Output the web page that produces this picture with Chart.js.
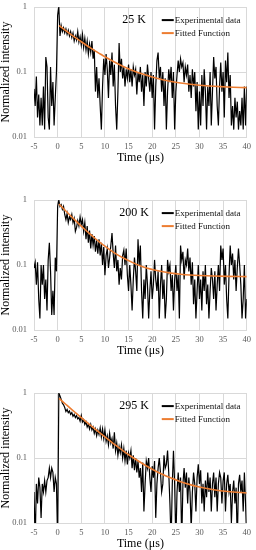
<!DOCTYPE html>
<html><head><meta charset="utf-8">
<script src="https://cdn.jsdelivr.net/npm/chart.js@4.4.0/dist/chart.umd.min.js"></script>
<style>
html,body{margin:0;padding:0;background:#fff;}
body{width:256px;height:550px;overflow:hidden;position:relative;}
canvas{position:absolute;left:0;}
</style></head>
<body>
<canvas id="c0" width="256" height="172" style="top:-5px"></canvas>
<canvas id="c1" width="256" height="172" style="top:188px"></canvas>
<canvas id="c2" width="256" height="172" style="top:381px"></canvas>
<script>
// ---- data ----
const T_START = -5, T_STEP = 0.25;   // sampling grid of the measured decays (μs)
const panelLabels = ['25 K', '200 K', '295 K'];
const seriesNames = ['Experimental data', 'Fitted Function'];
const xTickValues = [-5, 0, 5, 10, 15, 20, 25, 30, 35, 40];
const xTickLabels = ['-5', '0', '5', '10', '15', '20', '25', '30', '35', '40'];
const yTickValues = [0.01, 0.1, 1];
const yTickLabels = ['0.01', '0.1', '1'];
const xTitle = 'Time (μs)';
const yTitle = 'Normalized intensity';

const exp25K = [
 0.055,0.03,0.085,0.02, 0.045,0.015,0.04,0.015, 0.06,0.013,0.17,0.12, 0.02,0.013,0.12,0.03, 0.07,0.015,0.04,0.1,
 0.75,1.0,0.36,0.52, 0.42,0.48,0.40,0.46, 0.38,0.44,0.36,0.42, 0.34,0.40,0.30,0.36, 0.31,0.42,0.29,0.35,
 0.26,0.38,0.24,0.33, 0.22,0.30,0.19,0.27, 0.20,0.30,0.16,0.22, 0.05,0.12,0.04,0.08, 0.03,0.013,0.06,0.16,
 0.09,0.19,0.11,0.04, 0.15,0.09,0.2,0.06, 0.13,0.03,0.013,0.05, 0.28,0.1,0.16,0.08, 0.12,0.06,0.11,0.08,
 0.13,0.07,0.11,0.06, 0.12,0.09,0.11,0.045, 0.1,0.07,0.12,0.05, 0.09,0.03,0.1,0.06, 0.13,0.08,0.05,0.1,
 0.04,0.09,0.013,0.06, 0.15,0.2,0.08,0.12, 0.05,0.1,0.03,0.08, 0.013,0.05,0.11,0.07, 0.12,0.04,0.1,0.013,
 0.05,0.09,0.15,0.1, 0.16,0.12,0.14,0.07, 0.12,0.09,0.13,0.05, 0.09,0.04,0.11,0.06, 0.1,0.025,0.07,0.013,
 0.05,0.015,0.09,0.03, 0.11,0.05,0.013,0.06, 0.03,0.1,0.015,0.05, 0.17,0.08,0.12,0.03, 0.015,0.06,0.14,0.05,
 0.1,0.02,0.15,0.07, 0.2,0.04,0.09,0.015, 0.03,0.013,0.04,0.02, 0.035,0.013,0.025,0.015, 0.04,0.013,0.06,0.015,
 0.06
];
const exp200K = [
 0.09,0.11,0.05,0.11, 0.03,0.015,0.1,0.05, 0.1,0.03,0.06,0.02, 0.12,0.22,0.08,0.017, 0.04,0.017,0.13,0.08,
 0.8,1.0,0.8,0.85, 0.72,0.8,0.6,0.5, 0.62,0.45,0.55,0.5, 0.6,0.45,0.52,0.33, 0.38,0.48,0.4,0.55,
 0.42,0.5,0.33,0.45, 0.25,0.4,0.22,0.34, 0.18,0.3,0.2,0.28, 0.16,0.24,0.15,0.25, 0.14,0.22,0.1,0.19,
 0.07,0.14,0.18,0.09, 0.13,0.2,0.31,0.15, 0.09,0.2,0.08,0.12, 0.05,0.09,0.06,0.14, 0.17,0.1,0.18,0.07,
 0.04,0.1,0.05,0.02, 0.06,0.13,0.08,0.04, 0.25,0.1,0.2,0.04, 0.015,0.06,0.03,0.1, 0.05,0.015,0.04,0.08,
 0.03,0.05,0.12,0.06, 0.04,0.08,0.015,0.05, 0.1,0.03,0.06,0.015, 0.03,0.12,0.08,0.1, 0.04,0.07,0.02,0.06,
 0.1,0.04,0.07,0.015, 0.2,0.12,0.16,0.06, 0.12,0.1,0.18,0.08, 0.13,0.05,0.11,0.025, 0.06,0.015,0.04,0.1,
 0.03,0.06,0.02,0.08, 0.04,0.1,0.025,0.05, 0.015,0.04,0.09,0.06, 0.03,0.08,0.02,0.05, 0.1,0.04,0.2,0.12,
 0.18,0.05,0.1,0.03, 0.015,0.07,0.2,0.1, 0.15,0.06,0.12,0.04, 0.09,0.18,0.1,0.05, 0.015,0.03,0.1,0.015,
 0.03
];
const exp295K = [
 0.03,0.005,0.04,0.02, 0.05,0.035,0.012,0.04, 0.03,0.045,0.03,0.045, 0.05,0.07,0.05,0.07, 0.06,0.03,0.05,0.04,
 0.005,1.0,0.9,0.8, 0.7,0.66,0.6,0.52, 0.56,0.5,0.53,0.47, 0.5,0.44,0.47,0.42, 0.45,0.4,0.42,0.37,
 0.45,0.36,0.39,0.33, 0.36,0.3,0.33,0.28, 0.33,0.27,0.3,0.24, 0.28,0.22,0.27,0.23, 0.29,0.21,0.28,0.2,
 0.27,0.18,0.22,0.16, 0.24,0.17,0.2,0.14, 0.25,0.13,0.17,0.11, 0.15,0.12,0.16,0.1, 0.14,0.09,0.13,0.08,
 0.12,0.1,0.13,0.07, 0.11,0.065,0.1,0.06, 0.09,0.05,0.07,0.03, 0.085,0.015,0.04,0.09, 0.07,0.1,0.05,0.03,
 0.075,0.05,0.09,0.012, 0.04,0.07,0.1,0.06, 0.03,0.04,0.11,0.07, 0.08,0.13,0.06,0.02, 0.005,0.04,0.13,0.04,
 0.005,0.03,0.06,0.03, 0.05,0.005,0.04,0.07, 0.035,0.06,0.02,0.05, 0.03,0.008,0.03,0.06, 0.04,0.015,0.05,0.08,
 0.04,0.065,0.02,0.04, 0.015,0.045,0.025,0.06, 0.03,0.05,0.015,0.04, 0.06,0.025,0.05,0.015, 0.04,0.06,0.05,0.02,
 0.045,0.06,0.015,0.04, 0.055,0.03,0.04,0.01, 0.03,0.045,0.02,0.035, 0.005,0.04,0.055,0.03, 0.045,0.015,0.06,0.02,
 0.005
];

const fitTimes = [0.3,1,2,3,4,5,6,7,8,9,10,12,14,16,18,20,22,24,26,28,30,33,36,40];
const fit25K  = [0.520,0.476,0.420,0.371,0.329,0.293,0.261,0.234,0.210,0.190,0.172,0.143,0.121,0.105,0.093,0.0838,0.0769,0.0717,0.0678,0.0649,0.0626,0.0603,0.0588,0.0576];
const fit200K = [0.869,0.770,0.649,0.549,0.466,0.397,0.340,0.293,0.254,0.222,0.195,0.154,0.127,0.108,0.094,0.0855,0.0794,0.0752,0.0723,0.0703,0.0690,0.0677,0.0669,0.0664];
const fit295K = [0.827,0.746,0.645,0.558,0.484,0.420,0.364,0.317,0.276,0.241,0.211,0.163,0.127,0.101,0.0818,0.0674,0.0568,0.0491,0.0433,0.0390,0.0359,0.0326,0.0306,0.0290];

const expSeries = [exp25K, exp200K, exp295K];
const fitSeries = [fit25K, fit200K, fit295K];

// ---- drawing ----
const FONT = '"Liberation Serif", "Times New Roman", serif';
const GRID = '#d9d9d9';
const TICKC = '#595959';

const overlay = {
  id: 'overlay',
  afterDatasetsDraw(chart, args, opts) {
    const ctx = chart.ctx, a = chart.chartArea;
    ctx.save();
    ctx.font = '12px ' + FONT;
    ctx.fillStyle = '#000';
    ctx.textAlign = 'center';
    ctx.textBaseline = 'middle';
    ctx.fillText(opts.label, a.left + 100, a.top + 13);
    ctx.font = '9px ' + FONT;
    ctx.textAlign = 'left';
    seriesNames.forEach((name, i) => {
      const ds = chart.data.datasets.find(d => d.label === name);
      const y = a.top + 13 + i * 13;
      ctx.strokeStyle = ds.borderColor;
      ctx.lineWidth = 2;
      ctx.beginPath();
      ctx.moveTo(a.right - 85, y);
      ctx.lineTo(a.right - 73, y);
      ctx.stroke();
      ctx.fillStyle = '#111';
      ctx.fillText(name, a.right - 72, y + 0.5);
    });
    ctx.restore();
  }
};

function makeChart(id, k) {
  const expPts = expSeries[k].map((v, i) => ({x: T_START + i * T_STEP, y: v}));
  const fitPts = fitSeries[k].map((v, i) => ({x: fitTimes[i], y: v}));
  new Chart(document.getElementById(id), {
    type: 'line',
    data: {
      datasets: [
        {label: seriesNames[0], data: expPts, borderColor: '#000000', borderWidth: 1.2, pointRadius: 0, tension: 0, order: 2},
        {label: seriesNames[1], data: fitPts, borderColor: '#ED7D31', borderWidth: 1.6, pointRadius: 0, tension: 0.4, cubicInterpolationMode: 'monotone', order: 1}
      ]
    },
    options: {
      responsive: false,
      animation: false,
      events: [],
      layout: {padding: {left: 0, right: 6, top: 8, bottom: 0}},
      plugins: {legend: {display: false}, tooltip: {enabled: false}, overlay: {label: panelLabels[k]}},
      scales: {
        x: {
          type: 'linear', min: -5, max: 40,
          afterBuildTicks: s => { s.ticks = xTickValues.map(v => ({value: v})); },
          afterFit: s => { s.height = 30; },
          ticks: {font: {family: FONT, size: 8.5}, color: TICKC, padding: 5, maxRotation: 0, autoSkip: false,
                  callback: (v, i) => xTickLabels[i]},
          grid: {color: GRID, drawTicks: false},
          border: {color: GRID},
          title: {display: true, text: xTitle, font: {family: FONT, size: 12, lineHeight: 1.2}, color: '#000', padding: {top: 0, bottom: 2}}
        },
        y: {
          type: 'logarithmic', min: 0.01, max: 1,
          afterBuildTicks: s => { s.ticks = yTickValues.map(v => ({value: v})); },
          afterFit: s => { s.width = 34; },
          ticks: {font: {family: FONT, size: 8.5}, color: TICKC, padding: 7, autoSkip: false,
                  callback: (v, i) => yTickLabels[i]},
          grid: {color: GRID, drawTicks: false},
          border: {color: GRID},
          title: {display: true, text: yTitle, font: {family: FONT, size: 12, lineHeight: 1}, color: '#000', padding: 0}
        }
      }
    },
    plugins: [overlay]
  });
}
makeChart('c0', 0);
makeChart('c1', 1);
makeChart('c2', 2);
</script>
</body></html>
